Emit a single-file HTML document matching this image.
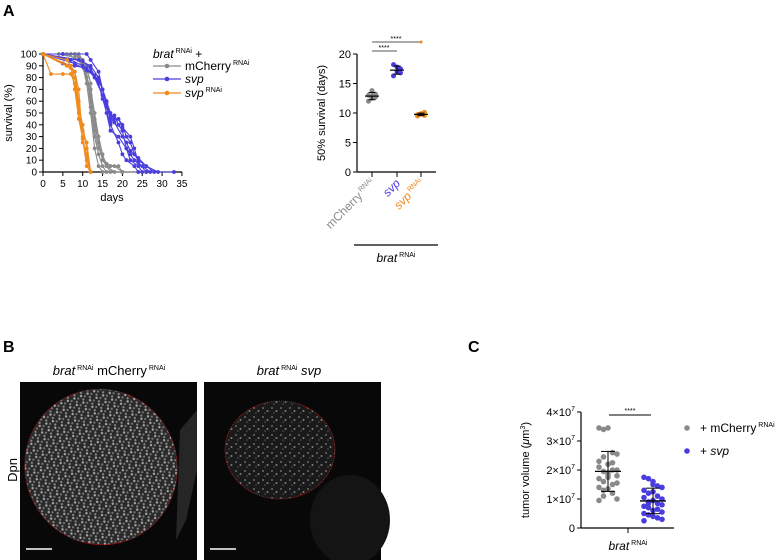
<!DOCTYPE html>
<html><head><meta charset="utf-8"><style>
body{margin:0;background:#fff;width:782px;height:560px;overflow:hidden;font-family:"Liberation Sans",sans-serif}
svg{position:absolute;left:0;top:0}
</style></head><body>
<svg id="fig" width="782" height="560" viewBox="0 0 782 560" font-family="Liberation Sans, sans-serif">
<defs>
<pattern id="nuc" width="7" height="7" patternUnits="userSpaceOnUse">
<rect width="7" height="7" fill="#2a2a2a"/>
<circle cx="1.5" cy="1.5" r="1.2" fill="#a8a8a8"/><circle cx="5" cy="3" r="1.1" fill="#777"/><circle cx="2.5" cy="5.5" r="1.1" fill="#8c8c8c"/>
</pattern>
<pattern id="nuc2" width="9" height="9" patternUnits="userSpaceOnUse">
<rect width="9" height="9" fill="#1a1a1a"/>
<circle cx="2" cy="3" r="1" fill="#6a6a6a"/><circle cx="6.5" cy="6" r="1" fill="#808080"/><circle cx="4" cy="8" r="0.8" fill="#555"/>
</pattern>
</defs>
<text x="3" y="16" font-size="16" font-weight="bold">A</text>
<text x="3" y="352" font-size="16" font-weight="bold">B</text>
<text x="468" y="352" font-size="16" font-weight="bold">C</text>
<g id="surv"></g>
<g id="half"></g>
<g id="tumor"></g>
<g>
<text x="109" y="375" font-size="13" text-anchor="middle"><tspan font-style="italic">brat</tspan><tspan font-size="7" dy="-5"> RNAi</tspan><tspan dy="5"> mCherry</tspan><tspan font-size="7" dy="-5"> RNAi</tspan></text>
<text x="289" y="375" font-size="13" text-anchor="middle"><tspan font-style="italic">brat</tspan><tspan font-size="7" dy="-5"> RNAi</tspan><tspan dy="5" font-style="italic"> svp</tspan></text>
<text transform="translate(17,470) rotate(-90)" font-size="13" text-anchor="middle">Dpn</text>
<rect x="20" y="382" width="177" height="178" fill="#080808"/>
<path d="M180 430 L197 410 L197 470 L186 520 L176 540 Z" fill="#262626"/>
<ellipse cx="101" cy="467" rx="76" ry="78" transform="rotate(-20 101 467)" fill="url(#nuc)"/>
<rect x="204" y="382" width="177" height="178" fill="#080808"/>
<ellipse cx="350" cy="520" rx="40" ry="45" fill="#141414"/>
<ellipse cx="280" cy="450" rx="55" ry="49" fill="url(#nuc2)"/>
<ellipse cx="101" cy="467" rx="76" ry="78" transform="rotate(-20 101 467)" fill="none" stroke="#b22" stroke-width="0.8" stroke-dasharray="1 1"/>
<ellipse cx="280" cy="450" rx="55" ry="49" fill="none" stroke="#b22" stroke-width="0.8" stroke-dasharray="1 1"/>
<line x1="26" y1="549" x2="52" y2="549" stroke="#fff" stroke-width="1.5"/>
<line x1="210" y1="549" x2="236" y2="549" stroke="#fff" stroke-width="1.5"/>
</g>
</svg>
<script>
const NS="http://www.w3.org/2000/svg";
// ---- Survival data (day, percent) ----
const grayCurves=[
[[0,100],[5,100],[8,100],[10,95],[11,85],[12,55],[13,30],[14,15],[15,5],[16,0]],
[[0,100],[6,100],[9,95],[11,80],[12,65],[13,45],[14,25],[15,10],[17,5],[19,5],[20,0],[33,0]],
[[0,100],[7,100],[9,98],[10,90],[11,75],[12,50],[13,20],[14,5],[15,0]],
[[0,100],[4,100],[8,97],[10,92],[12,70],[13,50],[14,30],[15,15],[16,5],[18,0],[24,0]],
[[0,100],[8,100],[10,93],[11,80],[12,60],[13,35],[14,20],[16,7],[18,5],[20,0],[26,0]],
[[0,100],[9,100],[11,90],[12,75],[13,40],[14,25],[15,10],[17,0]]];
const blueCurves=[
[[0,100],[5,100],[11,100],[12,95],[14,85],[15,70],[16,60],[17,50],[18,45],[19,45],[20,40],[21,30],[22,25],[23,15],[24,10],[26,5],[28,0],[33,0]],
[[0,100],[5,92],[8,90],[11,88],[13,80],[15,65],[16,55],[17,45],[18,48],[19,40],[20,35],[21,20],[22,15],[23,10],[25,5],[27,0]],
[[0,100],[7,95],[10,90],[12,85],[14,78],[15,70],[16,60],[17,42],[18,45],[19,45],[20,38],[22,30],[23,20],[24,8],[26,0]],
[[0,100],[8,92],[11,86],[13,82],[15,65],[16,50],[17,35],[19,30],[21,20],[22,10],[24,5],[25,0]],
[[0,100],[9,95],[12,90],[14,80],[16,58],[17,48],[18,42],[20,30],[21,25],[22,18],[24,12],[26,5],[29,0]],
[[0,100],[10,94],[12,88],[14,75],[15,62],[17,40],[19,25],[20,15],[21,10],[23,5],[24,0]]];
const orangeCurves=[
[[0,100],[2,83],[5,83],[7,83],[8,75],[9,50],[10,30],[11,10],[12,0]],
[[0,100],[6,90],[8,85],[9,60],[10,35],[11,25],[12,0]],
[[0,100],[7,88],[8,80],[9,55],[10,40],[11,20],[12,0]],
[[0,100],[6,95],[8,85],[9,70],[10,25],[11,15],[12,0]],
[[0,100],[7,90],[8,70],[9,45],[10,28],[11,5],[12,0]]];
const survXTicks=[0,5,10,15,20,25,30,35];
const survYTicks=[0,10,20,30,40,50,60,70,80,90,100];
// ---- 50% survival ----
const halfCats=["mCherry","svp","svp"];
const halfGray=[12.0,12.5,13.2,13.0,13.8,12.7];
const halfBlue=[16.3,17.0,17.5,18.2,17.8,16.8];
const halfOrange=[9.5,9.8,10.1,9.7,9.9,9.6];
const halfYTicks=[0,5,10,15,20];
// ---- Tumor volume (x1e7) ----
const tumGray=[3.45,3.4,3.45,2.6,2.55,2.3,2.45,2.2,2.25,2.0,2.1,1.95,1.9,2.0,1.8,1.7,1.6,1.75,1.5,1.55,1.4,1.3,1.35,1.2,1.0,0.95,1.1,1.85];
const tumBlue=[1.75,1.7,1.6,1.45,1.4,1.3,1.2,1.25,1.1,1.0,1.05,0.9,0.95,0.85,0.8,0.75,0.7,0.6,0.65,0.55,0.5,0.45,0.4,0.35,0.3,0.25,0.85,1.5];
const tumYTicks=[0,1,2,3,4];

function el(tag,attrs,parent,txt){const e=document.createElementNS(NS,tag);for(const k in attrs)e.setAttribute(k,attrs[k]);if(txt!==undefined)e.textContent=txt;parent.appendChild(e);return e;}
function mean(a){return a.reduce((s,v)=>s+v,0)/a.length;}
function sd(a){const m=mean(a);return Math.sqrt(a.reduce((s,v)=>s+(v-m)*(v-m),0)/(a.length-1));}

// Survival chart
const S=document.getElementById('surv');
const xS=d=>43+d*3.97, yS=p=>172-p*1.18;
el('line',{x1:43,y1:54,x2:43,y2:172,stroke:'#000','stroke-width':1.2},S);
el('line',{x1:43,y1:172,x2:182,y2:172,stroke:'#000','stroke-width':1.2},S);
survXTicks.forEach(t=>{el('line',{x1:xS(t),y1:172,x2:xS(t),y2:176,stroke:'#000'},S);const tx=el('text',{x:xS(t),y:187,'font-size':10,'text-anchor':'middle'},S,t);});
survYTicks.forEach(t=>{el('line',{x1:39,y1:yS(t),x2:43,y2:yS(t),stroke:'#000'},S);const tx=el('text',{x:37,y:yS(t)+3.5,'font-size':10,'text-anchor':'end'},S,t);});
const xt=el('text',{x:112,y:201,'font-size':11,'text-anchor':'middle'},S,'days');

const yt=el('text',{transform:'translate(12,113) rotate(-90)','font-size':11,'text-anchor':'middle'},S,'survival (%)');

function drawCurves(curves,color,name){curves.forEach(c=>{const g=el('g',{},S);
el('polyline',{points:c.map(p=>xS(p[0])+','+yS(p[1])).join(' '),fill:'none',stroke:color,'stroke-width':1.1},g);
c.forEach(p=>el('circle',{cx:xS(p[0]),cy:yS(p[1]),r:1.9,fill:color},g));});}
drawCurves(grayCurves,'#8a8a8a','mcherry-curve');
drawCurves(blueCurves,'#4a3de0','svp-curve');
drawCurves(orangeCurves,'#f08a1c','svp-rnai-curve');
// legend
const L=el('g',{},S);
const lt=el('text',{x:153,y:58,'font-size':12},L);lt.innerHTML='<tspan font-style="italic">brat</tspan><tspan font-size="7" dy="-5"> RNAi</tspan><tspan dy="5"> +</tspan>';
[['#8a8a8a','mCherry','RNAi',false,66],['#4a3de0','svp','',true,79],['#f08a1c','svp','RNAi',true,93]].forEach(r=>{
const g=el('g',{},L);
el('line',{x1:153,y1:r[4],x2:181,y2:r[4],stroke:r[0],'stroke-width':1.2},g);el('circle',{cx:167,cy:r[4],r:2.3,fill:r[0]},g);
const t=el('text',{x:185,y:r[4]+4,'font-size':12},g);t.innerHTML='<tspan'+(r[3]?' font-style="italic"':'')+'>'+r[1]+'</tspan><tspan font-size="7" dy="-5">'+(r[2]?' '+r[2]:'')+'</tspan>';});

// Half survival chart
const H=document.getElementById('half');
const y5=v=>172-v*5.9, xC=[372,397,421];
el('line',{x1:357,y1:54,x2:357,y2:172,stroke:'#000','stroke-width':1.2},H);
el('line',{x1:357,y1:172,x2:436,y2:172,stroke:'#000','stroke-width':1.2},H);
halfYTicks.forEach(t=>{el('line',{x1:353,y1:y5(t),x2:357,y2:y5(t),stroke:'#000'},H);const tx=el('text',{x:351,y:y5(t)+4,'font-size':11,'text-anchor':'end'},H,t);});
xC.forEach(x=>el('line',{x1:x,y1:172,x2:x,y2:177,stroke:'#000'},H));
const hy=el('text',{transform:'translate(325,113) rotate(-90)','font-size':11,'text-anchor':'middle'},H,'50% survival (days)');

[[halfGray,'#8a8a8a','mCherry',false],[halfBlue,'#4a3de0','svp',true],[halfOrange,'#f08a1c','svp',true]].forEach((s,i)=>{
const g=el('g',{},H);
s[0].forEach((v,j)=>el('circle',{cx:xC[i]+((j%3)-1)*3.5,cy:y5(v),r:2.5,fill:s[1]},g));
const m=mean(s[0]),d=sd(s[0]);
el('line',{x1:xC[i]-7,y1:y5(m),x2:xC[i]+7,y2:y5(m),stroke:'#000','stroke-width':1.2},g);
el('line',{x1:xC[i],y1:y5(m-d),x2:xC[i],y2:y5(m+d),stroke:'#000'},g);
[m-d,m+d].forEach(v=>el('line',{x1:xC[i]-3.5,y1:y5(v),x2:xC[i]+3.5,y2:y5(v),stroke:'#000'},g));
const lab=el('text',{transform:'translate('+(xC[i]+4)+',184) rotate(-45)','font-size':12,'text-anchor':'end',fill:s[1]},g);
lab.innerHTML='<tspan'+(s[3]?' font-style="italic"':'')+'>'+s[2]+'</tspan>'+(i!==1?'<tspan font-size="7" dy="-5"> RNAi</tspan>':'');
});
el('line',{x1:372,y1:51,x2:397,y2:51,stroke:'#555'},H);el('text',{x:384,y:50,'font-size':7,'text-anchor':'middle'},H,'****');
el('line',{x1:372,y1:42,x2:421,y2:42,stroke:'#555'},H);el('text',{x:396,y:41,'font-size':7,'text-anchor':'middle'},H,'****');
el('circle',{cx:421,cy:42,r:1.5,fill:'#f08a1c'},H);
el('line',{x1:354,y1:245,x2:438,y2:245,stroke:'#000','stroke-width':1.2},H);
const bl=el('text',{x:396,y:262,'font-size':12,'text-anchor':'middle'},H);bl.innerHTML='<tspan font-style="italic">brat</tspan><tspan font-size="7" dy="-5"> RNAi</tspan>';


// Tumor chart
const T=document.getElementById('tumor');
const yC=v=>528-v*29;
el('line',{x1:581,y1:412,x2:581,y2:528,stroke:'#000','stroke-width':1.2},T);
el('line',{x1:581,y1:528,x2:674,y2:528,stroke:'#000','stroke-width':1.2},T);
el('line',{x1:628,y1:528,x2:628,y2:533,stroke:'#000'},T);
tumYTicks.forEach(t=>{el('line',{x1:577,y1:yC(t),x2:581,y2:yC(t),stroke:'#000'},T);const tx=el('text',{x:575,y:yC(t)+4,'font-size':11,'text-anchor':'end'},T);tx.innerHTML=t===0?'0':t+'×10<tspan font-size="7" dy="-5">7</tspan>';});
const ty=el('text',{transform:'translate(529,470) rotate(-90)','font-size':11,'text-anchor':'middle'},T);ty.innerHTML='tumor volume (<tspan font-style="italic">μ</tspan>m<tspan font-size="7" dy="-4">3</tspan><tspan dy="4">)</tspan>';

[[tumGray,'#8a8a8a',608],[tumBlue,'#4a3de0',653]].forEach((s,i)=>{
const g=el('g',{},T);
s[0].forEach((v,j)=>el('circle',{cx:s[2]+((j%5)-2)*4.5,cy:yC(v),r:2.8,fill:s[1]},g));
const m=mean(s[0]),d=sd(s[0]);
el('line',{x1:s[2]-13,y1:yC(m),x2:s[2]+13,y2:yC(m),stroke:'#000','stroke-width':1.3},g);
el('line',{x1:s[2],y1:yC(m-d),x2:s[2],y2:yC(m+d),stroke:'#000'},g);
[m-d,m+d].forEach(v=>el('line',{x1:s[2]-7,y1:yC(v),x2:s[2]+7,y2:yC(v),stroke:'#000'},g));});
el('line',{x1:609,y1:415,x2:651,y2:415,stroke:'#000'},T);el('text',{x:630,y:413,'font-size':7,'text-anchor':'middle'},T,'****');
const tb=el('text',{x:628,y:550,'font-size':12,'text-anchor':'middle'},T);tb.innerHTML='<tspan font-style="italic">brat</tspan><tspan font-size="7" dy="-5"> RNAi</tspan>';

[['#8a8a8a','+ mCherry','RNAi',false,428],['#4a3de0','+ ','svp',true,451]].forEach(r=>{
const g=el('g',{},T);
el('circle',{cx:687,cy:r[4],r:2.8,fill:r[0]},g);
const t=el('text',{x:700,y:r[4]+4,'font-size':12},g);
t.innerHTML=r[3]?'+ <tspan font-style="italic">svp</tspan>':r[1]+'<tspan font-size="7" dy="-5"> RNAi</tspan>';});
</script>
</body></html>
